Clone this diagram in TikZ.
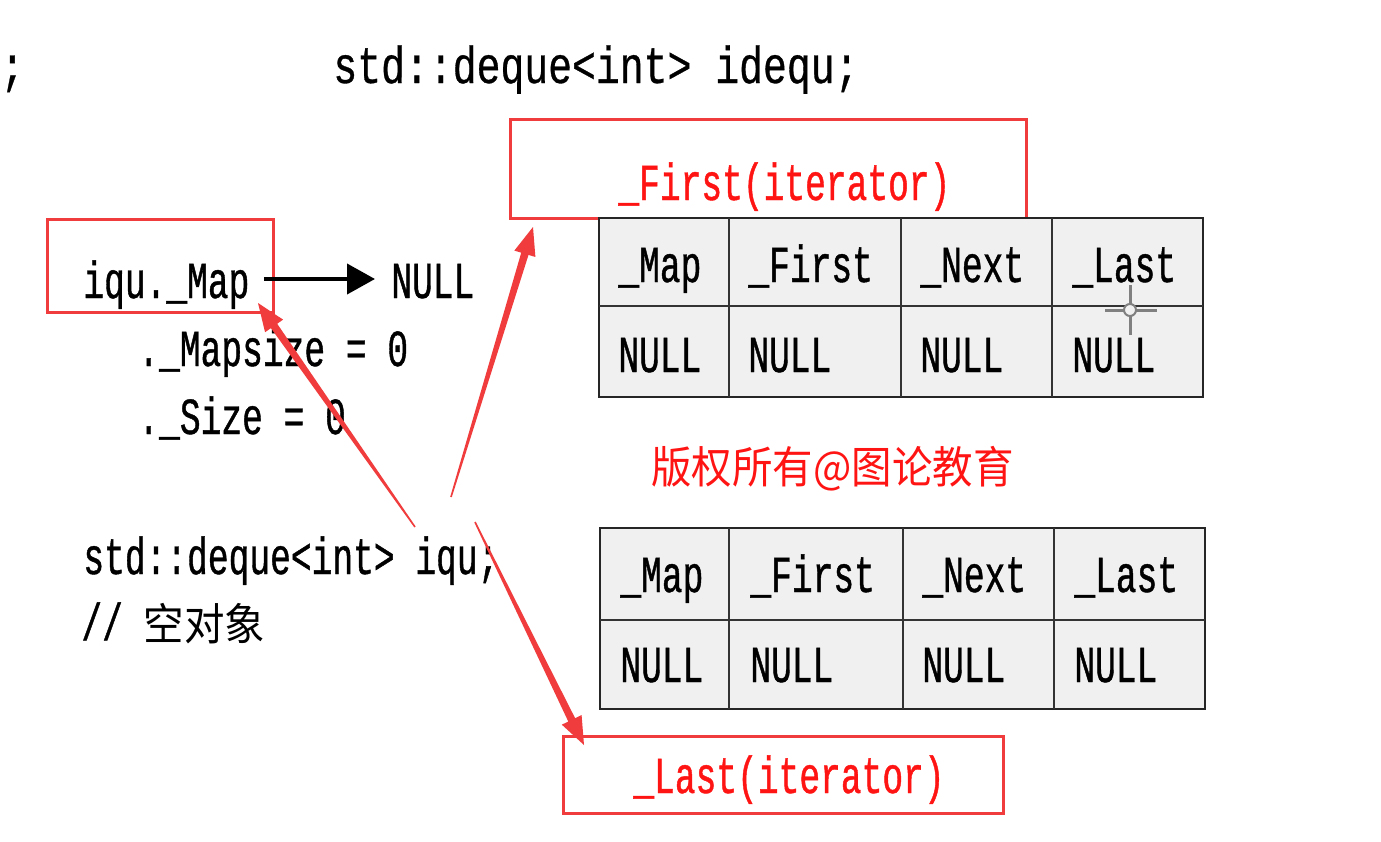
\documentclass[tikz,border=0pt]{standalone}
\usepackage{fontspec}
\newfontfamily\codefont[FakeStretch=0.665,FakeBold=0.8]{Liberation Mono}
\newfontfamily\topfont[FakeStretch=0.765,FakeBold=0.6]{Liberation Mono}
\newfontfamily\cjk[FakeStretch=0.92]{Noto Sans CJK SC}
\usetikzlibrary{arrows.meta,calc}
\definecolor{boxred}{RGB}{240,60,60}
\definecolor{txtred}{RGB}{255,20,20}
\definecolor{cellgray}{RGB}{240,240,240}
\newcommand{\taperarrow}[2]{%
  \coordinate (tpB) at ($(#2)!14pt!(#1)$);
  \fill[boxred] ($(#1)!0.4pt!90:(#2)$) -- ($(tpB)!1.9pt!90:(#2)$) -- ($(tpB)!5.5pt!90:(#2)$)
    -- (#2) -- ($(tpB)!5.5pt!-90:(#2)$) -- ($(tpB)!1.9pt!-90:(#2)$) -- ($(#1)!0.4pt!-90:(#2)$) -- cycle;
}
\begin{document}
\begin{tikzpicture}[x=0.5pt,y=-0.5pt,
  code/.style={font=\codefont\fontsize{26}{30}\selectfont, inner sep=0, anchor=base west},
  codered/.style={code, text=txtred},
  redbox/.style={draw=boxred, line width=1.6pt},
  tbl/.style={fill=cellgray, draw=black!85, line width=1pt},
  tline/.style={draw=black!80, line width=0.7pt}]
\useasboundingbox[fill=white] (0,0) rectangle (1381,841);

% top line
\node[code, font=\topfont\fontsize{26}{30}\selectfont] (semi) at (0,83) {;};
\node[code, font=\topfont\fontsize{26}{30}\selectfont] (decl) at (333,83) {std::deque<int> idequ;};

% left block
\node[redbox, minimum width=113pt, minimum height=46.5pt, anchor=north west, inner sep=0] (mapbox) at (46,218) {};
\node[code] (iqumap) at (83,298) {iqu.\_Map};
\node[code] (null0) at (391,298) {NULL};
\draw[line width=2pt, -{Triangle[length=14pt,width=15pt]}, shorten <=7pt, shorten >=8pt] (iqumap.east |- 0,279) -- (null0.west |- 0,279);
\node[code] (mapsize) at (138,366) {.\_Mapsize = 0};
\node[code] (size) at (138,434) {.\_Size = 0};
\node[code] (iqu) at (83,574) {std::deque<int> iqu;};
\node[code, anchor=base west] (cmt) at (81,640) {// {\cjk\fontsize{22}{24}\selectfont 空对象}};

% First box
\node[redbox, minimum width=258pt, minimum height=49.5pt, anchor=north west, inner sep=0] (firstbox) at (509,118) {};
\node[codered] (firstlbl) at (618,200) {\_First(iterator)};

% table 1
\draw[tbl] (599,218) rectangle (1203,397);
\draw[tline] (599,306) -- (1203,306);
\foreach \xx in {729,901,1052} \draw[tline] (\xx,218) -- (\xx,397);
\node[code] (h1a) at (618,282) {\_Map};
\node[code] (h1b) at (748,282) {\_First};
\node[code] (h1c) at (920,282) {\_Next};
\node[code] (h1d) at (1072,282) {\_Last};
\node[code] (n1a) at (618,372) {NULL};
\node[code] (n1b) at (748,372) {NULL};
\node[code] (n1c) at (920,372) {NULL};
\node[code] (n1d) at (1072,372) {NULL};
% cursor
\draw[black!50, line width=1.5pt] (1130,285) -- (1130,335) (1105,310) -- (1157,310);
\draw[black!50, line width=1pt, fill=cellgray] (1130,310) circle[radius=3pt];

% watermark
\node[inner sep=0, anchor=base west, text=txtred, font=\cjk\fontsize{22}{24}\selectfont] (wm) at (651,483) {版权所有@图论教育};

% table 2
\draw[tbl] (600,528) rectangle (1205,709);
\draw[tline] (600,620) -- (1205,620);
\foreach \xx in {729,903,1054} \draw[tline] (\xx,528) -- (\xx,709);
\node[code] (h2a) at (620,592) {\_Map};
\node[code] (h2b) at (750,592) {\_First};
\node[code] (h2c) at (922,592) {\_Next};
\node[code] (h2d) at (1074,592) {\_Last};
\node[code] (n2a) at (620,682) {NULL};
\node[code] (n2b) at (750,682) {NULL};
\node[code] (n2c) at (922,682) {NULL};
\node[code] (n2d) at (1074,682) {NULL};

% Last box
\node[redbox, minimum width=220pt, minimum height=38.5pt, anchor=north west, inner sep=0] (lastbox) at (562,735) {};
\node[codered] (lastlbl) at (633,793) {\_Last(iterator)};

% red arrows
\coordinate (t1) at (415,527);
\coordinate (h1) at (258,303);
\coordinate (t2) at (451,497);
\coordinate (h2) at (533,227);
\coordinate (t3) at (475,522);
\coordinate (h3) at (584,745);
\taperarrow{t1}{h1}
\taperarrow{t2}{h2}
\taperarrow{t3}{h3}
\end{tikzpicture}
\end{document}
